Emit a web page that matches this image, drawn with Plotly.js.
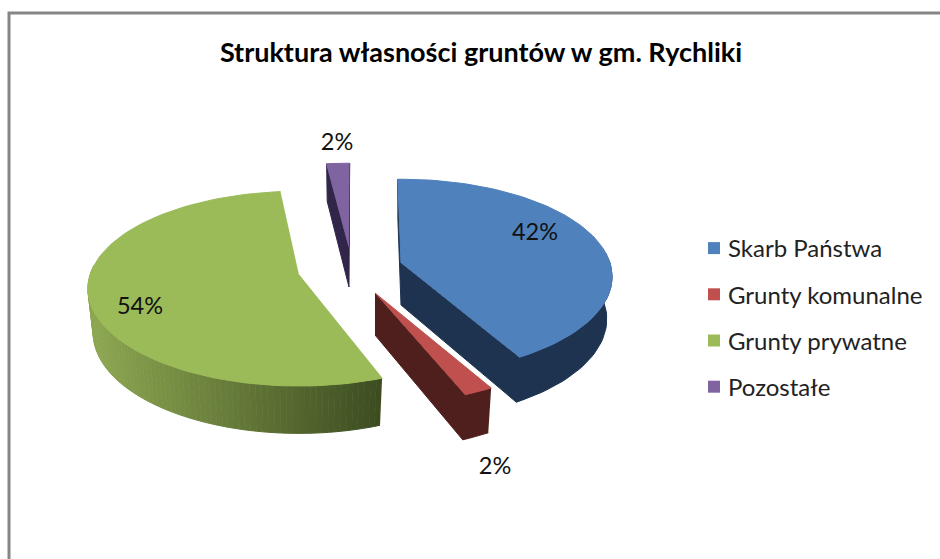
<!DOCTYPE html>
<html><head><meta charset="utf-8">
<script src="https://cdn.plot.ly/plotly-3.0.1.min.js"></script>
<style>html,body{margin:0;padding:0;background:#fff}#c{width:940px;height:559px}</style>
</head><body><div id="c"></div>
<script>
// Data
const categories = ["Skarb Państwa","Grunty komunalne","Grunty prywatne","Pozostałe"];
const shares = [42, 2, 54, 2];
const topColors = ["#4F81BD","#C0504D","#9BBB59","#8064A2"];
const wallColors = ["#1E3350","#4F1F1D",null,"#31264A"];
const chartTitle = "Struktura własności gruntów w gm. Rychliki";

// Exploded-pie drawing setup (pixel scale of the axes)
const apexX = [401,375,299,349], apexY = [263,293,275,247], depth = [42,42,44,40];
const angleOffset = [0,0.6,2.4,1.2];
const labelX = [535,495,140,337], labelY = [234,468,308,144];
const startAngle = -1, B = 209, A = 95.5, K = 0.14, SX = 0.975, SY = 1.03;
const greenL = [142,168,82], greenR = [60,76,32];

function topPt(i,deg){const t=deg*Math.PI/180,u=Math.sin(t),v=Math.cos(t),f=1/(1+K*v);
  return [apexX[i]+B*u*f, apexY[i]-A*v*f];}
function botPt(i,deg){const t=deg*Math.PI/180,u=Math.sin(t),v=Math.cos(t),f=1/(1+K*v);
  return [apexX[i]+SX*B*u*f, apexY[i]+depth[i]-SY*A*v*f];}
function poly(pts,color){return {type:"scatter",mode:"lines",x:pts.map(p=>p[0]),y:pts.map(p=>p[1]),
  fill:"toself",fillcolor:color,line:{color:color,width:1},hoverinfo:"skip",showlegend:false};}
function arc(fn,i,a,b){const n=Math.max(2,Math.ceil(Math.abs(b-a)/2)),o=[];
  for(let j=0;j<=n;j++)o.push(fn(i,a+(b-a)*j/n));return o;}
function hex(c){return "rgb("+c.map(Math.round).join(",")+")";}
function sind(d){return Math.sin(d*Math.PI/180);}

const traces = [];
// native legend entries
categories.forEach((c,i)=>traces.push({type:"scatter",mode:"markers",x:[null],y:[null],name:c,legendgroup:c,
  marker:{symbol:"square",size:13,color:topColors[i]},hoverinfo:"skip"}));

let cum = startAngle;
const drawOrder = [3,2,0,1];
const spans = shares.map((s,i)=>{const a=cum+angleOffset[i];cum+=s/100*360;return [a,a+s/100*360];});
drawOrder.forEach(i=>{
  const [a,b]=spans[i], wall=wallColors[i];
  const edgeCol = wall || hex(greenR);
  // radial walls: only those facing the viewer
  if(sind(a)<0) traces.push(poly([[apexX[i],apexY[i]],topPt(i,a),botPt(i,a),[apexX[i],apexY[i]+depth[i]]],edgeCol));
  if(sind(b)>0.001) traces.push(poly([[apexX[i],apexY[i]],topPt(i,b),botPt(i,b),[apexX[i],apexY[i]+depth[i]]],edgeCol));
  // outer wall: only the front-facing part of the rim
  const wa=Math.max(a,84), wb=Math.min(b,276);
  if(wb>wa){
    if(wall){
      traces.push(poly(arc(topPt,i,wa,wb).concat(arc(botPt,i,wb,wa)),wall));
    }else{
      const seg=80;
      const minX=apexX[i]-B*1.02,maxX=topPt(i,wa)[0];
      for(let j=0;j<seg;j++){
        const d0=wa+(wb-wa)*j/seg,d1=wa+(wb-wa)*(j+1)/seg;
        const mx=topPt(i,(d0+d1)/2)[0];
        const q=Math.max(0,Math.min(1,(mx-minX)/(maxX-minX)));
        const col=greenL.map((c,k)=>c+(greenR[k]-c)*q);
        traces.push(poly([topPt(i,d0),topPt(i,d1),botPt(i,d1),botPt(i,d0)],hex(col)));
      }
    }
  }
  // top face
  traces.push(poly([[apexX[i],apexY[i]]].concat(arc(topPt,i,a,b)),topColors[i]));
});
// value labels
traces.push({type:"scatter",mode:"text",x:labelX,y:labelY,
  text:shares.map(s=>Math.round(s)+"%"),textposition:"middle center",
  textfont:{family:"Lato, sans-serif",size:23.5,color:"#111"},hoverinfo:"skip",showlegend:false});

const layout = {
  width:940,height:559,margin:{l:0,r:0,t:0,b:0},paper_bgcolor:"#fff",plot_bgcolor:"#fff",
  title:{text:"<b>"+chartTitle+"</b>",x:481/940,xanchor:"center",y:1-53/559,yanchor:"middle",
    font:{family:"Lato, sans-serif",size:27,color:"#000"}},
  xaxis:{range:[0,940],visible:false,fixedrange:true},
  yaxis:{range:[559,0],visible:false,fixedrange:true},
  legend:{x:694/940,y:1-226/559,xanchor:"left",yanchor:"top",bgcolor:"rgba(0,0,0,0)",tracegroupgap:12,
    font:{family:"Lato, sans-serif",size:24,color:"#222"},itemsizing:"constant"},
  shapes:[{type:"rect",xref:"x",yref:"y",x0:9,y0:13,x1:990,y1:620,line:{color:"#868686",width:3},layer:"below"}],
  showlegend:true,hovermode:false
};
Plotly.newPlot("c",traces,layout,{displayModeBar:false,staticPlot:true}).then(()=>{
  document.querySelectorAll("#c .legendtext").forEach(t=>t.setAttribute("x",parseFloat(t.getAttribute("x"))-6));
});
</script></body></html>
